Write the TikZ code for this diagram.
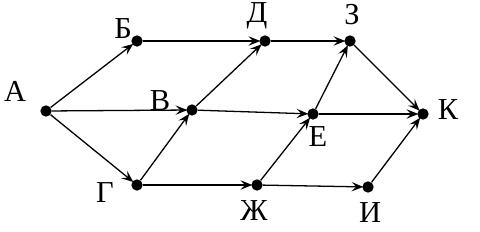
\documentclass[tikz,border=0pt]{standalone}
\usepackage{fontspec}
\setmainfont{Liberation Serif}
\usetikzlibrary{arrows.meta}

\tikzset{
    dot/.style={circle, fill=black, inner sep=0pt, minimum size=0.34cm},
    lbl/.style={font=\fontsize{26}{26}\selectfont},
    arr/.style={line width=1.1pt, -{Stealth[length=10pt, width=8pt, inset=4pt]}, shorten >=-1pt}
}

\begin{document}
\begin{tikzpicture}[x=0.03cm, y=-0.03cm]
    \useasboundingbox (0,0) rectangle (480,232);

    % Titik-titik graf
    \node[dot] (A) at (46,111) {};
    \node[dot] (B) at (137,41) {};
    \node[dot] (V) at (192,110) {};
    \node[dot] (G) at (137,185) {};
    \node[dot] (D) at (265,41) {};
    \node[dot] (Z) at (350,41) {};
    \node[dot] (E) at (313,114) {};
    \node[dot] (K) at (423,114) {};
    \node[dot] (Zh) at (257,185) {};
    \node[dot] (I) at (368,187) {};

    % Label titik
    \node[lbl] (lA) at (15,91) {А};
    \node[lbl] (lB) at (123,29) {Б};
    \node[lbl] (lV) at (160,101) {В};
    \node[lbl] (lG) at (105,193) {Г};
    \node[lbl] (lD) at (257,16) {Д};
    \node[lbl] (lZ) at (352,15) {З};
    \node[lbl] (lE) at (318,137) {Е};
    \node[lbl] (lK) at (448,110) {К};
    \node[lbl] (lZh) at (254,211) {Ж};
    \node[lbl] (lI) at (370,213) {И};

    % Busur berarah
    \foreach \u/\v in {A/B, A/V, A/G, B/D, V/D, G/V, G/Zh, V/E, D/Z, E/Z, Zh/E, Zh/I, Z/K, E/K, I/K} {
        \draw[arr] (\u) -- (\v);
    }

\end{tikzpicture}
\end{document}
